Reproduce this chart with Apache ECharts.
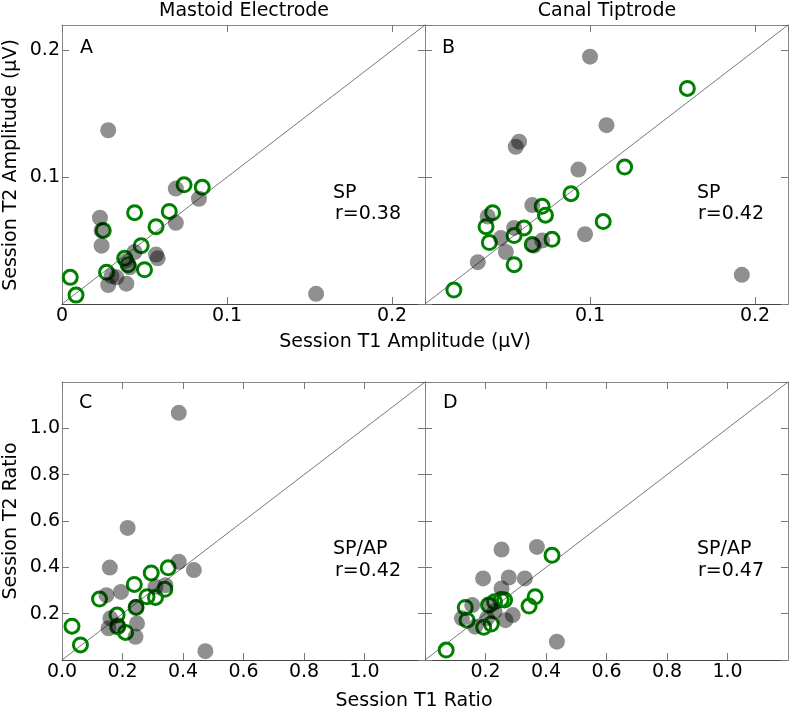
<!DOCTYPE html>
<html><head><meta charset="utf-8">
<script src="https://cdn.jsdelivr.net/npm/echarts@6/dist/echarts.min.js"></script>
<style>html,body{margin:0;padding:0;background:#fff}#c{width:790px;height:711px}</style>
</head><body><div id="c"></div>
<script>
// ---- tick labels & texts ----
const ampTickLabels = ['0', '0.1', '0.2'];
const ratioTickLabels = ['0.0', '0.2', '0.4', '0.6', '0.8', '1.0'];
const panelLetters = ['A', 'B', 'C', 'D'];
const columnTitles = ['Mastoid Electrode', 'Canal Tiptrode'];
const measureNames = ['SP', 'SP', 'SP/AP', 'SP/AP'];
const rValues = ['r=0.38', 'r=0.42', 'r=0.42', 'r=0.47'];
const xAxisTitles = ['Session T1 Amplitude (\u03bcV)', 'Session T1 Ratio'];
const yAxisTitles = ['Session T2 Amplitude (\u03bcV)', 'Session T2 Ratio'];
const ampRange = [0, 0.22];
const ratioRange = [0, 1.2];

// ---- data: [T1, T2] ----
const grayA = [[0.028,0.137],[0.154,0.008],[0.069,0.091],[0.083,0.083],[0.069,0.064],[0.023,0.068],
  [0.024,0.058],[0.024,0.046],[0.057,0.039],[0.058,0.036],[0.044,0.041],[0.039,0.034],[0.041,0.029],
  [0.033,0.021],[0.028,0.015],[0.039,0.016],[0.030,0.022]];
const greenA = [[0.074,0.094],[0.085,0.092],[0.044,0.072],[0.065,0.073],[0.057,0.061],[0.025,0.058],
  [0.048,0.046],[0.038,0.036],[0.040,0.031],[0.050,0.027],[0.027,0.025],[0.005,0.021],[0.0085,0.007]];
const grayB = [[0.100,0.195],[0.110,0.141],[0.057,0.128],[0.055,0.124],[0.093,0.106],[0.065,0.078],
  [0.038,0.069],[0.097,0.055],[0.192,0.023],[0.032,0.033],[0.054,0.060],[0.046,0.052],[0.049,0.041],
  [0.066,0.046],[0.071,0.050]];
const greenB = [[0.159,0.170],[0.121,0.108],[0.0885,0.087],[0.071,0.077],[0.073,0.070],[0.041,0.072],
  [0.037,0.061],[0.039,0.0485],[0.060,0.060],[0.054,0.054],[0.065,0.047],[0.077,0.051],[0.108,0.065],
  [0.054,0.031],[0.0175,0.011]];
const grayC = [[0.386,1.067],[0.217,0.570],[0.158,0.399],[0.386,0.424],[0.436,0.388],[0.474,0.038],
  [0.147,0.280],[0.195,0.294],[0.309,0.316],[0.342,0.323],[0.160,0.180],[0.154,0.137],[0.248,0.158],
  [0.243,0.100],[0.185,0.150],[0.245,0.230]];
const greenC = [[0.351,0.398],[0.295,0.376],[0.239,0.326],[0.340,0.305],[0.281,0.273],[0.309,0.270],
  [0.124,0.263],[0.245,0.227],[0.182,0.194],[0.184,0.144],[0.210,0.119],[0.033,0.146],[0.061,0.065]];
const grayD = [[0.253,0.477],[0.370,0.488],[0.192,0.352],[0.277,0.356],[0.330,0.352],[0.253,0.309],
  [0.436,0.079],[0.290,0.194],[0.266,0.172],[0.156,0.237],[0.122,0.180],[0.166,0.144],[0.216,0.237],
  [0.230,0.210],[0.205,0.180]];
const greenD = [[0.420,0.452],[0.364,0.273],[0.344,0.233],[0.263,0.259],[0.252,0.261],[0.230,0.251],
  [0.210,0.237],[0.133,0.227],[0.139,0.172],[0.194,0.141],[0.219,0.155],[0.070,0.043]];

const grayData = [grayA, grayB, grayC, grayD];
const greenData = [greenA, greenB, greenC, greenD];

// ---- layout ----
const FONT = 'DejaVu Sans';
const FS = 19;
const grids = [
  {left: 62, top: 25, width: 363, height: 279},
  {left: 425, top: 25, width: 363, height: 279},
  {left: 62, top: 382, width: 363, height: 278},
  {left: 425, top: 382, width: 363, height: 278}
];

function makeFormatter(labels, step, showZero) {
  return function (v) {
    const i = Math.round(v / step);
    if (Math.abs(v - i * step) > 1e-9) return '';
    if (i === 0 && !showZero) return '';
    return i < labels.length ? labels[i] : '';
  };
}

const xAxes = [], yAxes = [], series = [];
for (let g = 0; g < 4; g++) {
  const isAmp = g < 2;
  const range = isAmp ? ampRange : ratioRange;
  const step = isAmp ? 0.1 : 0.2;
  const labels = isAmp ? ampTickLabels : ratioTickLabels;
  const leftCol = (g % 2 === 0);
  const xShowZero = leftCol;
  const base = {
    gridIndex: g, type: 'value', min: range[0], max: range[1], interval: step,
    splitLine: {show: false},
    axisTick: {show: true, inside: true, length: 7, lineStyle: {color: '#777', width: 1}}
  };
  xAxes.push(Object.assign({}, base, {
    position: 'bottom',
    axisLine: {show: true, onZero: false, lineStyle: {color: '#444', width: 1}},
    axisLabel: {show: true, margin: 3, fontSize: FS, fontFamily: FONT, color: '#000',
      formatter: makeFormatter(labels, step, xShowZero), showMaxLabel: false, hideOverlap: false}
  }));
  xAxes.push(Object.assign({}, base, {
    position: 'top',
    axisLine: {show: true, onZero: false, lineStyle: {color: '#888', width: 1}},
    axisLabel: {show: false}
  }));
  yAxes.push(Object.assign({}, base, {
    position: 'left',
    axisLine: {show: true, onZero: false, lineStyle: {color: '#888', width: 1}},
    axisLabel: {show: leftCol, margin: 2, fontSize: FS, fontFamily: FONT, color: '#000',
      formatter: makeFormatter(labels, step, false), showMaxLabel: false, showMinLabel: false}
  }));
  yAxes.push(Object.assign({}, base, {
    position: 'right',
    axisLine: {show: true, onZero: false, lineStyle: {color: '#888', width: 1}},
    axisLabel: {show: false}
  }));

  series.push({
    type: 'line', xAxisIndex: g * 2, yAxisIndex: g * 2, silent: true,
    data: [[range[0], range[0]], [range[1], range[1]]],
    symbol: 'none', lineStyle: {color: '#555', width: 0.8}, z: 1
  });
  series.push({
    type: 'scatter', xAxisIndex: g * 2, yAxisIndex: g * 2, data: greenData[g],
    symbol: 'circle', symbolSize: 14,
    itemStyle: {color: 'rgba(0,0,0,0)', borderColor: '#008000', borderWidth: 3, opacity: 1},
    z: 2
  });
  series.push({
    type: 'scatter', xAxisIndex: g * 2, yAxisIndex: g * 2, data: grayData[g],
    symbol: 'circle', symbolSize: 16,
    itemStyle: {color: 'rgba(0,0,0,0.55)', borderWidth: 0},
    z: 3
  });
}

const textStyle = (t, x, y, extra) => ({
  type: 'text', x: x, y: y, silent: true,
  style: Object.assign({text: t, fontSize: FS, fontFamily: FONT, fill: '#000',
    textAlign: 'left', textVerticalAlign: 'middle'}, extra || {})
});

const graphics = [];
graphics.push(textStyle(columnTitles[0], 244, 11, {textAlign: 'center'}));
graphics.push(textStyle(columnTitles[1], 607, 11, {textAlign: 'center'}));
graphics.push(textStyle(xAxisTitles[0], 405, 342, {textAlign: 'center'}));
graphics.push(textStyle(xAxisTitles[1], 414, 701, {textAlign: 'center'}));
graphics.push(Object.assign(textStyle(yAxisTitles[0], 0, 0, {textAlign: 'center'}), {x: 11, y: 165, rotation: Math.PI / 2}));
graphics.push(Object.assign(textStyle(yAxisTitles[1], 0, 0, {textAlign: 'center'}), {x: 11, y: 521, rotation: Math.PI / 2}));
const letterPos = [[80, 48], [442, 48], [79, 403], [443, 403]];
const measPos = [[333, 193, 335, 214], [697, 193, 698, 214], [333, 549, 335, 571], [697, 549, 698, 571]];
for (let g = 0; g < 4; g++) {
  graphics.push(textStyle(panelLetters[g], letterPos[g][0], letterPos[g][1]));
  graphics.push(textStyle(measureNames[g], measPos[g][0], measPos[g][1]));
  graphics.push(textStyle(rValues[g], measPos[g][2], measPos[g][3]));
}

const chart = echarts.init(document.getElementById('c'), null, {renderer: 'canvas'});
chart.setOption({
  animation: false,
  backgroundColor: '#fff',
  grid: grids,
  xAxis: xAxes,
  yAxis: yAxes,
  series: series,
  graphic: graphics
});
</script></body></html>
